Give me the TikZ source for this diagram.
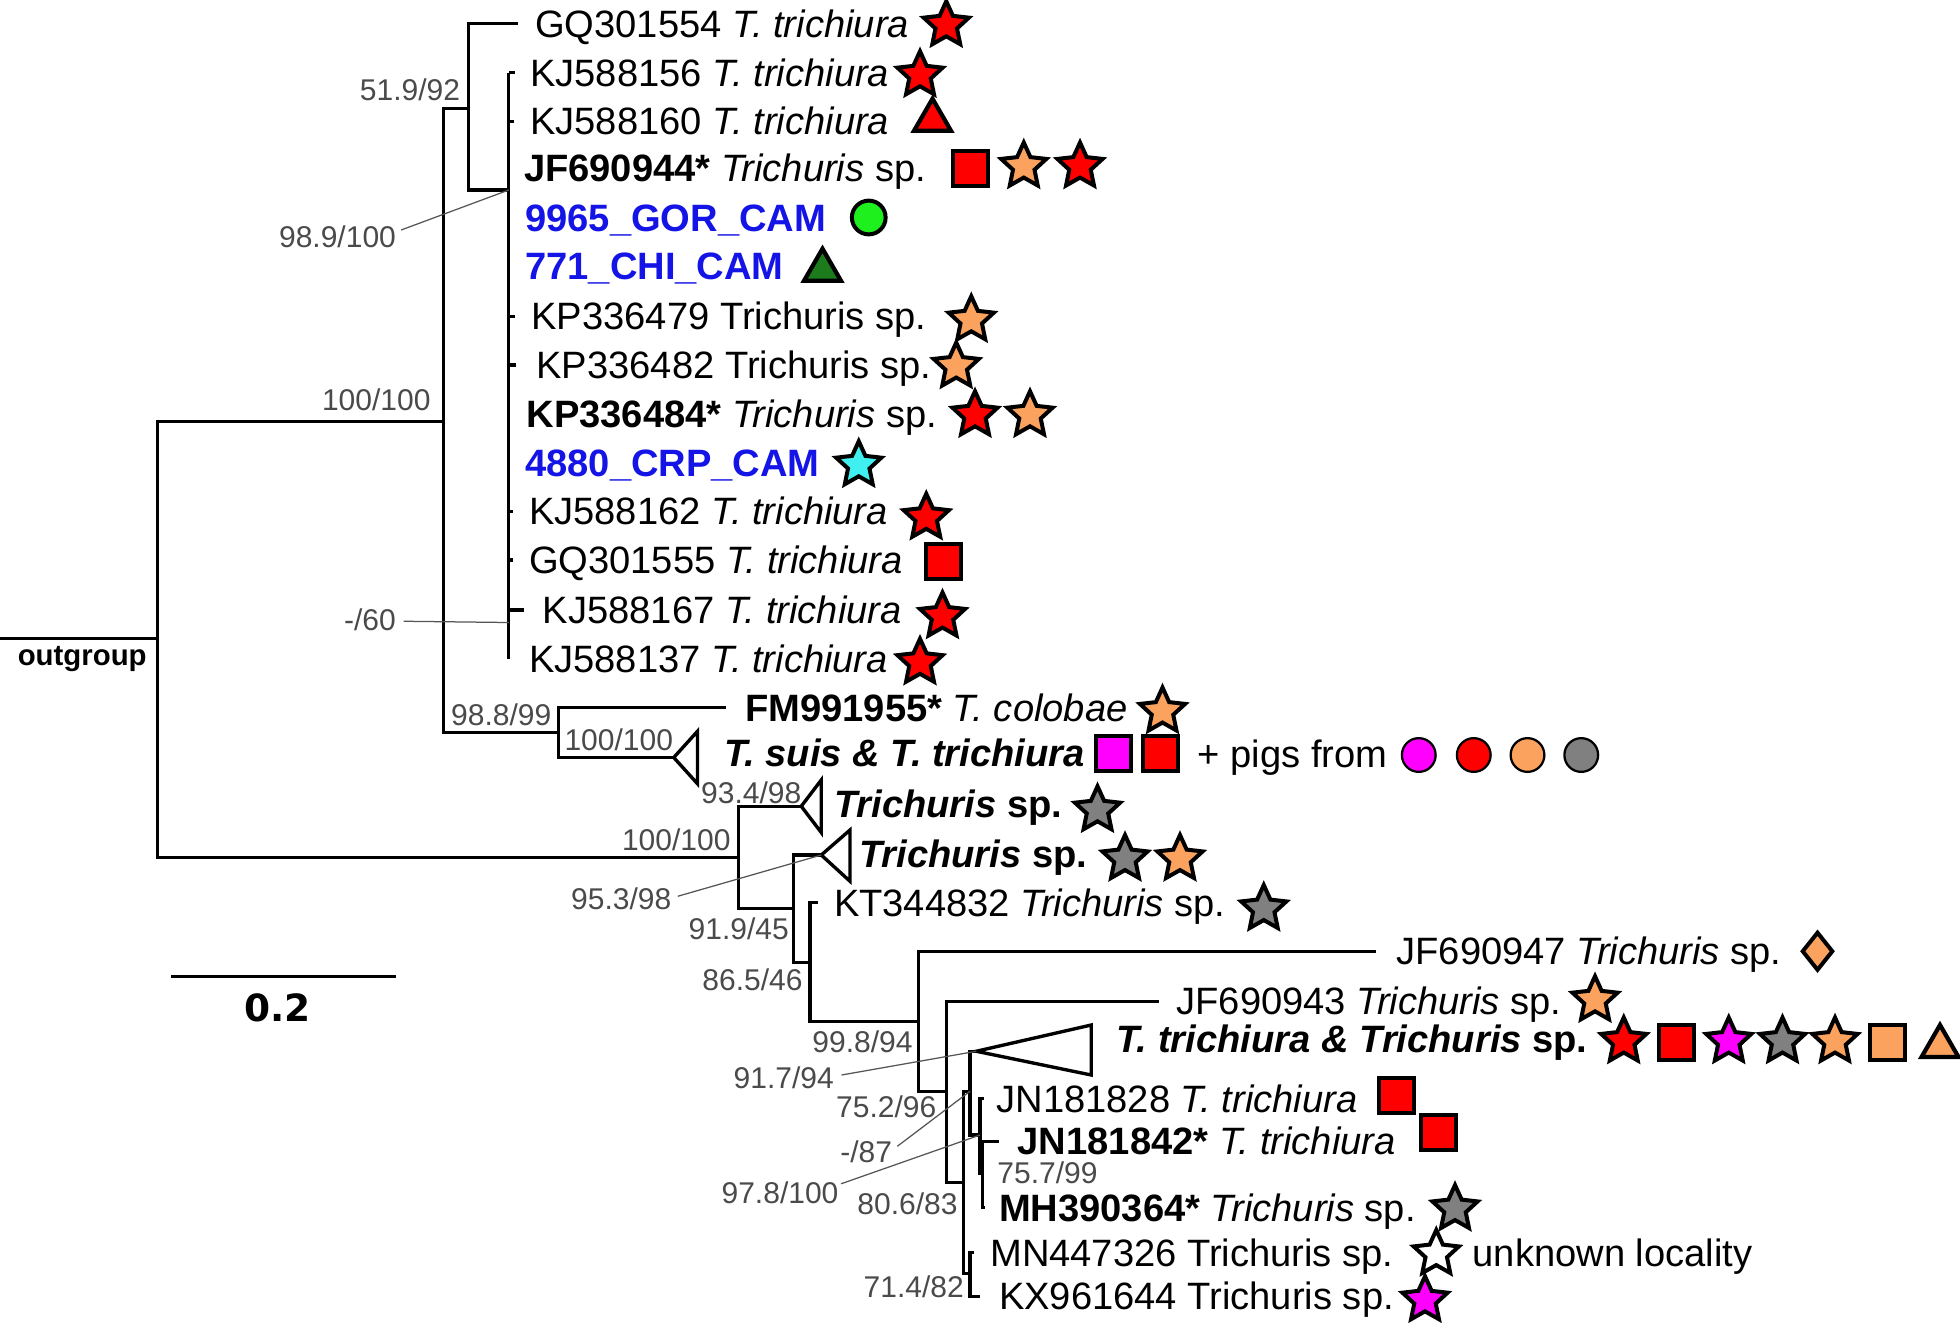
\documentclass[tikz,border=0pt]{standalone}
\usepackage{fontspec}
\setmainfont{Liberation Sans}
\newfontfamily\barfont{DejaVu Sans}
\usepackage{xcolor}
\usetikzlibrary{shapes.geometric}
\definecolor{ttred}{HTML}{FF0000}
\definecolor{peach}{HTML}{FBA35E}
\definecolor{pigpink}{HTML}{FF00FF}
\definecolor{ash}{HTML}{808080}
\definecolor{crpcyan}{HTML}{40F0F0}
\definecolor{gorgreen}{HTML}{1EF01E}
\definecolor{chigreen}{HTML}{1C7C1C}
\definecolor{camblue}{HTML}{1414E6}
\definecolor{suppgray}{HTML}{4A4A4A}
\definecolor{leadgray}{HTML}{555555}
\begin{document}
\begin{tikzpicture}[x=1pt, y=-1pt, every node/.style={inner sep=0pt},
  br/.style={line width=2.7pt},
  lead/.style={draw=leadgray, line width=1pt},
  leaf/.style={anchor=west, text height=21.8pt, text depth=0pt, font=\fontsize{30.5}{36}\selectfont},
  cam/.style={leaf, text=camblue, font=\fontsize{30.5}{36}\selectfont\bfseries},
  supp/.style={text=suppgray, text height=17.2pt, text depth=0pt, font=\fontsize{24}{29}\selectfont},
  sym/.style={draw=black, line width=3.2pt, line join=miter},
  starsym/.style={sym, star, star points=5, star point ratio=2.1, minimum size=38pt},
  sqsym/.style={sym, rectangle, minimum size=28pt},
  trisym/.style={sym, regular polygon, regular polygon sides=3, minimum size=34pt, line width=3.4pt},
  dotsym/.style={sym, circle, minimum size=27pt},
  pigsym/.style={draw=black, line width=1.8pt, circle, minimum size=27pt},
  diasym/.style={sym, diamond, minimum width=25pt, minimum height=31pt}]
\useasboundingbox (0,0) rectangle (1568,1058);

% leaves
\node[leaf] (gq554) at (428,19) {GQ301554 \textit{T. trichiura}};
\node[leaf] (kj156) at (424,58) {KJ588156 \textit{T. trichiura}};
\node[leaf] (kj160) at (424,97) {KJ588160 \textit{T. trichiura}};
\node[leaf] (jf944) at (419,134) {\textbf{JF690944*} \textit{Trichuris} sp.};
\node[cam] (gor) at (420,174) {9965\_GOR\_CAM};
\node[cam] (chi) at (420,213) {771\_CHI\_CAM};
\node[leaf] (kp479) at (425,253) {KP336479 Trichuris sp.};
\node[leaf] (kp482) at (429,292) {KP336482 Trichuris sp.};
\node[leaf] (kp484) at (421,331) {\textbf{KP336484*} \textit{Trichuris} sp.};
\node[cam] (crp) at (420,370) {4880\_CRP\_CAM};
\node[leaf] (kj162) at (423,409) {KJ588162 \textit{T. trichiura}};
\node[leaf] (gq555) at (423,448) {GQ301555 \textit{T. trichiura}};
\node[leaf] (kj167) at (434,488) {KJ588167 \textit{T. trichiura}};
\node[leaf] (kj137) at (423,527) {KJ588137 \textit{T. trichiura}};
\node[leaf] (fm955) at (596,566) {\textbf{FM991955*} \textit{T. colobae}};
\node[leaf] (suis) at (579,602) {\textbf{\textit{T. suis \& T. trichiura}}};
\node[leaf] (pigs) at (958,603) {+ pigs from};
\node[leaf] (trA) at (667,643) {\textbf{\textit{Trichuris} sp.}};
\node[leaf] (trB) at (687,683) {\textbf{\textit{Trichuris} sp.}};
\node[leaf] (kt832) at (667,722) {KT344832 \textit{Trichuris} sp.};
\node[leaf] (jf947) at (1117,761) {JF690947 \textit{Trichuris} sp.};
\node[leaf] (jf943) at (941,801) {JF690943 \textit{Trichuris} sp.};
\node[leaf] (mix) at (893,831) {\textbf{\textit{T. trichiura \& Trichuris} sp.}};
\node[leaf] (jn828) at (797,879) {JN181828 \textit{T. trichiura}};
\node[leaf] (jn842) at (814,913) {\textbf{JN181842*} \textit{T. trichiura}};
\node[leaf] (mh364) at (799,966) {\textbf{MH390364*} \textit{Trichuris} sp.};
\node[leaf] (mn326) at (792,1002) {MN447326 Trichuris sp.};
\node[leaf] (unk) at (1178,1002) {unknown locality};
\node[leaf] (kx644) at (799,1037) {KX961644 Trichuris sp.};

% internal nodes
\coordinate (og) at (0,511);
\coordinate (nR) at (126,511);
\coordinate (nA) at (355,337);
\coordinate (nB) at (375,87);
\coordinate (nC) at (407,152);
\coordinate (n60) at (407,498);
\coordinate (nD) at (447,586);
\coordinate (nE) at (591,686);
\coordinate (nF) at (635,727);
\coordinate (nG) at (648,770);
\coordinate (nH) at (735,817);
\coordinate (nI) at (757,873);
\coordinate (nJ) at (771,946);
\coordinate (nK) at (776,873);
\coordinate (nM) at (784,908);
\coordinate (nN) at (786,939);
\coordinate (nL) at (776,1019);
\coordinate (tri1) at (539,606);
\coordinate (tri2) at (641,645);
\coordinate (tri3) at (657,684);
\coordinate (tri4) at (781,841);

% branches
\draw[br] (og) -- (nR);
\draw[br] (nR) |- (nA) (nR) |- (nE);
\draw[br] (nA) |- (nB) (nA) |- (nD);
\draw[br] (nB) |- ([xshift=-14pt]gq554.west) (nB) |- (nC);
\draw[br] (nC |- kj156.west) -- (nC |- kj137.west);
\draw[br] (nC |- kj156.west) -- ++(5,0);
\draw[br] (nC |- kj160.west) -- ++(4,0);
\draw[br] (nC |- kp479.west) -- ++(5,0);
\draw[br] (nC |- kp482.west) -- ++(6,0);
\draw[br] (nC |- kj162.west) -- ++(3,0);
\draw[br] (nC |- gq555.west) -- ++(3,0);
\draw[br] (nC |- kj167.west) -- ++(12,0);
\draw[br] (nD) |- ([xshift=-15pt]fm955.west) (nD) |- (tri1);
\draw[br] (nE) |- (tri2) (nE) |- (nF);
\draw[br] (nF) |- (tri3) (nF) |- (nG);
\draw[br] (nG) |- ([xshift=-13pt]kt832.west) (nG) |- (nH);
\draw[br] (nH) |- ([xshift=-16pt]jf947.west) (nH) |- (nI);
\draw[br] (nI) |- ([xshift=-14pt]jf943.west) (nI) |- (nJ);
\draw[br] (nJ) |- (nK) (nJ) |- (nL);
\draw[br] (nK) |- (tri4) (nK) |- (nM);
\draw[br] (nM) |- ([xshift=-10pt]jn828.west) (nM) |- (nN);
\draw[br] (nN) |- ([xshift=-15pt]jn842.west) (nN) |- ([xshift=-11pt]mh364.west);
\draw[br] (nL) |- ([xshift=-13pt]mn326.west) (nL) |- ([xshift=-15pt]kx644.west);

% collapsed clades
\draw[br] (tri1) -- ++(19,-21) -- ++(0,42) -- cycle;
\draw[br] (tri2) -- ++(16,-21) -- ++(0,42) -- cycle;
\draw[br] (tri3) -- ++(23,-20) -- ++(0,41) -- cycle;
\draw[br] (tri4) -- ++(92,-21) -- ++(0,40) -- cycle;

% outgroup and scale
\node[anchor=base west, font=\fontsize{23.5}{28}\selectfont\bfseries] (ogl) at (14,532) {outgroup};
\coordinate (bar0) at (137,781);
\coordinate (bar1) at (317,781);
\draw[line width=2.7pt] (bar0) -- (bar1);
\node[text height=22pt, text depth=0pt, font=\barfont\fontsize{30}{36}\selectfont\bfseries] (barlbl) at (222,806) {0.2};

% support values
\node[supp] (s519) at (328,72) {51.9/92};
\node[supp] (s989) at (270,189) {98.9/100};
\node[supp] (s100a) at (301,320) {100/100};
\node[supp] (s60) at (296,496) {-/60};
\node[supp] (s988) at (401,572) {98.8/99};
\node[supp] (s100b) at (495,592) {100/100};
\node[supp] (s100c) at (541,672) {100/100};
\node[supp] (s934) at (601,634) {93.4/98};
\node[supp] (s953) at (497,719) {95.3/98};
\node[supp] (s919) at (591,743) {91.9/45};
\node[supp] (s865) at (602,784) {86.5/46};
\node[supp] (s998) at (690,833) {99.8/94};
\node[supp] (s917) at (627,862) {91.7/94};
\node[supp] (s752) at (709,885) {75.2/96};
\node[supp] (s87) at (693,921) {-/87};
\node[supp] (s978) at (624,954) {97.8/100};
\node[supp] (s806) at (726,963) {80.6/83};
\node[supp] (s757) at (838,938) {75.7/99};
\node[supp] (s714) at (731,1029) {71.4/82};
\draw[lead] ([xshift=4pt,yshift=5pt]s989.east) -- (nC);
\draw[lead] ([xshift=6pt,yshift=-1pt]s60.east) -- (n60);
\draw[lead] ([xshift=5pt,yshift=2pt]s953.east) -- (tri3);
\draw[lead] ([xshift=6pt,yshift=2pt]s917.east) -- (tri4);
\draw[lead] ([xshift=4pt,yshift=4pt]s87.east) -- (nK);
\draw[lead] ([xshift=2pt,yshift=7pt]s978.east) -- (nM);

% host symbols
\node[starsym, fill=ttred] (m1) at (757,20) {};
\node[starsym, fill=ttred] (m2) at (736,60) {};
\node[trisym, fill=ttred] (m3) at (746,96) {};
\node[sqsym, fill=ttred] (m4a) at (776,135) {};
\node[starsym, fill=peach] (m4b) at (819,133) {};
\node[starsym, fill=ttred] (m4c) at (864,133) {};
\node[dotsym, fill=gorgreen] (m5) at (695,174) {};
\node[trisym, fill=chigreen] (m6) at (658,216) {};
\node[starsym, fill=peach] (m7) at (777,256) {};
\node[starsym, fill=peach] (m8) at (765,293) {};
\node[starsym, fill=ttred] (m9a) at (780,332) {};
\node[starsym, fill=peach] (m9b) at (824,332) {};
\node[starsym, fill=crpcyan] (m10) at (687,372) {};
\node[starsym, fill=ttred] (m11) at (741,414) {};
\node[sqsym, fill=ttred] (m12) at (755,449) {};
\node[starsym, fill=ttred] (m13) at (754,493) {};
\node[starsym, fill=ttred] (m14) at (736,530) {};
\node[starsym, fill=peach] (m15) at (930,569) {};
\node[sqsym, fill=pigpink] (m16a) at (891,603) {};
\node[sqsym, fill=ttred] (m16b) at (928,603) {};
\node[pigsym, fill=pigpink] (p1) at (1135,604) {};
\node[pigsym, fill=ttred] (p2) at (1179,604) {};
\node[pigsym, fill=peach] (p3) at (1222,604) {};
\node[pigsym, fill=ash] (p4) at (1265,604) {};
\node[starsym, fill=ash] (m17) at (878,648) {};
\node[starsym, fill=ash] (m18a) at (900,687) {};
\node[starsym, fill=peach] (m18b) at (944,687) {};
\node[starsym, fill=ash] (m19) at (1011,727) {};
\node[diasym, fill=peach] (m20) at (1454,761) {};
\node[starsym, fill=peach] (m21) at (1276,800) {};
\node[starsym, fill=ttred] (m22a) at (1299,833) {};
\node[sqsym, fill=ttred] (m22b) at (1341,834) {};
\node[starsym, fill=pigpink] (m22c) at (1383,833) {};
\node[starsym, fill=ash] (m22d) at (1426,833) {};
\node[starsym, fill=peach] (m22e) at (1468,833) {};
\node[sqsym, fill=peach] (m22f) at (1510,834) {};
\node[trisym, fill=peach] (m22g) at (1552,837) {};
\node[sqsym, fill=ttred] (m23) at (1117,876) {};
\node[sqsym, fill=ttred] (m24) at (1151,906) {};
\node[starsym, fill=ash] (m25) at (1164,967) {};
\node[starsym, fill=white] (m26) at (1149,1003) {};
\node[starsym, fill=pigpink] (m27) at (1140,1040) {};
\end{tikzpicture}
\end{document}
